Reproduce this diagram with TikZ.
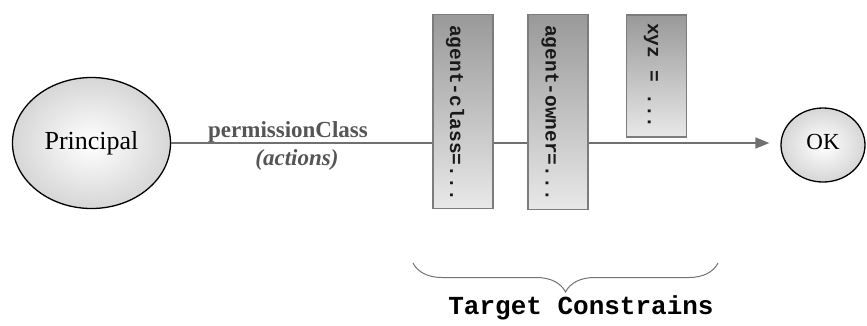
\documentclass[tikz,border=0pt]{standalone}
\usepackage{fontspec}
\setmainfont{Liberation Serif}
\setmonofont{Liberation Mono}
\usetikzlibrary{shapes.geometric, arrows.meta, decorations.pathreplacing, positioning}
\definecolor{linegray}{HTML}{707070}
\definecolor{boxedge}{HTML}{7C7C7C}
\definecolor{labelgray}{HTML}{555555}
\tikzset{blob/.style={ellipse, draw=black, line width=1.3pt, inner color=white, outer color=black!16, inner sep=0pt},
    constraint/.style={rectangle, draw=boxedge, line width=1.6pt, top color=black!40, bottom color=black!9, minimum width=60pt, inner sep=0pt},
    ctext/.style={rotate=-90, anchor=west, inner sep=0pt, font=\fontsize{19.5}{20}\selectfont\ttfamily\bfseries, text=black!90},
    flow/.style={draw=linegray, line width=1.6pt}}
\begin{document}
\begin{tikzpicture}[x=1pt, y=-1pt]
  \useasboundingbox (0,0) rectangle (867,325);
  \node[blob, minimum width=158pt, minimum height=131pt, font=\fontsize{26}{30}\selectfont] (principal) at (91.5,143) {Principal};
  \node[blob, minimum width=84pt, minimum height=74pt, font=\fontsize{23}{26}\selectfont] (ok) at (823,145) {\raisebox{6pt}{OK}};
  \draw[flow, -{Triangle[length=14pt,width=11pt]}, shorten >=11pt] (principal.east) -- (principal.east -| ok.west);
  \node[anchor=base, font=\fontsize{23}{26}\selectfont\bfseries, text=labelgray] (perm) at (288,137) {permissionClass};
  \node[anchor=base, font=\fontsize{23}{26}\selectfont\bfseries\itshape, text=labelgray] (actions) at (297,165) {(actions)};
  % constraint boxes
  \node[constraint, minimum height=194pt] (cls) at (463,111.5) {};
  \node[constraint, minimum height=195pt] (own) at (558,112) {};
  \node[constraint, minimum height=122pt] (xyz) at (656.5,76) {};
  \node[ctext] (clstext) at (455,25) {agent-class=...};
  \node[ctext] (owntext) at (550,25) {agent-owner=...};
  \node[ctext] (xyztext) at (651,23) {xyz = ...};
  \draw[black!55, line width=1pt, decorate, decoration={brace, mirror, amplitude=29pt}] (413,263) -- (718,263);
  \node[font=\fontsize{26}{28}\selectfont\ttfamily\bfseries] (target) at (581,308) {Target Constrains};
\end{tikzpicture}
\end{document}
